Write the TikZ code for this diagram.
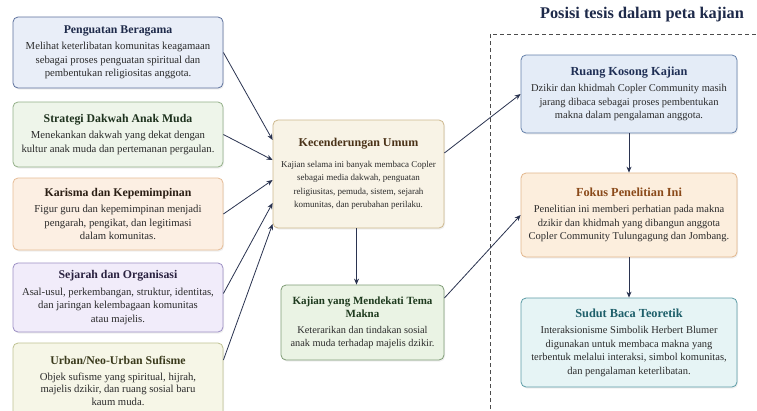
\documentclass[tikz,border=0pt]{standalone}
\usepackage{fontspec}
\setmainfont{Liberation Serif}
\usetikzlibrary{shadows,arrows.meta,calc}
\definecolor{arrc}{HTML}{2A3350}
\definecolor{f1}{HTML}{E9EEF8}\definecolor{d1}{HTML}{5D719C}\definecolor{t1}{HTML}{1E2A4A}
\definecolor{f2}{HTML}{EEF5EA}\definecolor{d2}{HTML}{93B088}\definecolor{t2}{HTML}{1E321E}
\definecolor{f3}{HTML}{FCEFE3}\definecolor{d3}{HTML}{E6BC96}\definecolor{t3}{HTML}{2A1E14}
\definecolor{f4}{HTML}{F1ECFA}\definecolor{d4}{HTML}{9C8FC4}\definecolor{t4}{HTML}{2A2240}
\definecolor{f5}{HTML}{F6F6E7}\definecolor{d5}{HTML}{BFC292}\definecolor{t5}{HTML}{3A3A1C}
\definecolor{fk}{HTML}{F8F3E6}\definecolor{dk}{HTML}{CDB88E}\definecolor{tk}{HTML}{4A3218}
\definecolor{fm}{HTML}{EAF3E4}\definecolor{dm}{HTML}{7F9C76}\definecolor{tm}{HTML}{1E3A1E}
\definecolor{fr}{HTML}{E4ECF7}\definecolor{dr}{HTML}{6480AA}\definecolor{tr}{HTML}{1F2F55}
\definecolor{ff}{HTML}{FCEEDD}\definecolor{df}{HTML}{E2B68C}\definecolor{tf}{HTML}{8A4A1A}
\definecolor{fs}{HTML}{E6F4F5}\definecolor{ds}{HTML}{5C9CA6}\definecolor{ts}{HTML}{1E5F6A}
\definecolor{txt}{HTML}{2B2B2B}
\tikzset{
  card/.style={draw=#1, line width=0.8pt, rounded corners=5pt, inner sep=0pt,
    align=center, font=\fontsize{10.7}{13.5}\selectfont, text=txt,
    drop shadow={opacity=0.12, shadow xshift=1pt, shadow yshift=-1.5pt}},
  rcard/.style={card=#1, font=\fontsize{10.5}{13.5}\selectfont},
  arr/.style={draw=arrc, line width=0.8pt, -{Stealth[length=6pt,width=5pt]}},
}
\newcommand{\ttl}[3]{\textcolor{#1}{\fontsize{#2}{14}\selectfont\bfseries #3}\\[3pt]}
\begin{document}
\begin{tikzpicture}[x=1pt,y=-1pt]
\clip (0,0) rectangle (757,410);
\fill[white] (0,0) rectangle (757,410);
% dashed frame and heading
\draw[dashed, draw=black!70, line width=0.7pt, dash pattern=on 4pt off 3pt] (490,409) -- (490,34) -- (780,34);
\node[font=\fontsize{16.3}{18}\selectfont\bfseries, text=t1] (head) at (642,15) {Posisi tesis dalam peta kajian};
% left column
\node[card=d1, fill=f1, minimum width=210, minimum height=71] (b1) at (118,52.5)
 {\ttl{t1}{11.8}{Penguatan Beragama}Melihat keterlibatan komunitas keagamaan\\ sebagai proses penguatan spiritual dan\\ pembentukan religiositas anggota.};
\node[card=d2, fill=f2, minimum width=210, minimum height=65] (b2) at (118,134.5)
 {\ttl{t2}{11.8}{Strategi Dakwah Anak Muda}Menekankan dakwah yang dekat dengan\\ kultur anak muda dan pertemanan pergaulan.};
\node[card=d3, fill=f3, minimum width=210, minimum height=72] (b3) at (118,214)
 {\ttl{t3}{11.8}{Karisma dan Kepemimpinan}Figur guru dan kepemimpinan menjadi\\ pengarah, pengikat, dan legitimasi\\ dalam komunitas.};
\node[card=d4, fill=f4, minimum width=210, minimum height=69] (b4) at (118,297.5)
 {\ttl{t4}{11.8}{Sejarah dan Organisasi}Asal-usul, perkembangan, struktur, identitas,\\ dan jaringan kelembagaan komunitas\\ atau majelis.};
\node[card=d5, fill=f5, minimum width=210, minimum height=76, font=\fontsize{10.7}{12.5}\selectfont] (b5) at (118,381)
 {\ttl{t5}{11.8}{Urban/Neo-Urban Sufisme}Objek sufisme yang spiritual, hijrah,\\ majelis dzikir, dan ruang sosial baru\\ kaum muda.};
% middle
\node[card=dk, fill=fk, minimum width=171, minimum height=108, font=\fontsize{9}{13.5}\selectfont] (kec) at (358.5,174)
 {\textcolor{tk}{\fontsize{12}{14}\selectfont\bfseries Kecenderungan Umum}\\[7pt]Kajian selama ini banyak membaca Copler\\ sebagai media dakwah, penguatan\\ religiusitas, pemuda, sistem, sejarah\\ komunitas, dan perubahan perilaku.};
\node[card=dm, fill=fm, minimum width=163, minimum height=75, font=\fontsize{10.3}{13}\selectfont] (kaj) at (362.5,322.5)
 {\textcolor{tm}{\fontsize{11}{13}\selectfont\bfseries Kajian yang Mendekati Tema}\\
  \textcolor{tm}{\fontsize{11}{13}\selectfont\bfseries Makna}\\[3pt]Keterarikan dan tindakan sosial\\ anak muda terhadap majelis dzikir.};
% right column
\node[rcard=dr, fill=fr, minimum width=216, minimum height=78] (ruang) at (629,94)
 {\ttl{tr}{12.3}{Ruang Kosong Kajian}Dzikir dan khidmah Copler Community masih\\ jarang dibaca sebagai proses pembentukan\\ makna dalam pengalaman anggota.};
\node[rcard=df, fill=ff, minimum width=216, minimum height=84] (fokus) at (629,215)
 {\ttl{tf}{12.3}{Fokus Penelitian Ini}Penelitian ini memberi perhatian pada makna\\ dzikir dan khidmah yang dibangun anggota\\ Copler Community Tulungagung dan Jombang.};
\node[rcard=ds, fill=fs, minimum width=216, minimum height=89] (sudut) at (629,342.5)
 {\ttl{ts}{12.3}{Sudut Baca Teoretik}Interaksionisme Simbolik Herbert Blumer\\ digunakan untuk membaca makna yang\\ terbentuk melalui interaksi, simbol komunitas,\\ dan pengalaman keterlibatan.};
% connectors
\draw[arr] (b1.east) -- ([yshift=34pt]kec.west);
\draw[arr] (b2.east) -- ([yshift=14pt]kec.west);
\draw[arr] (b3.east) -- ([yshift=-6pt]kec.west);
\draw[arr] ([yshift=4pt]b4.east) -- ([yshift=-29pt]kec.west);
\draw[arr] ([yshift=21pt]b5.east) -- ([yshift=-50pt]kec.west);
\draw[arr] ([xshift=-2pt]kec.south) -- ([xshift=-2pt]kec.south |- kaj.north);
\draw[arr] ([yshift=21pt]kec.east) -- (ruang.west);
\draw[arr] ([yshift=24.5pt]kaj.east) -- (fokus.west);
\draw[arr] (ruang.south) -- (fokus.north);
\draw[arr] (fokus.south) -- (sudut.north);
\end{tikzpicture}
\end{document}
